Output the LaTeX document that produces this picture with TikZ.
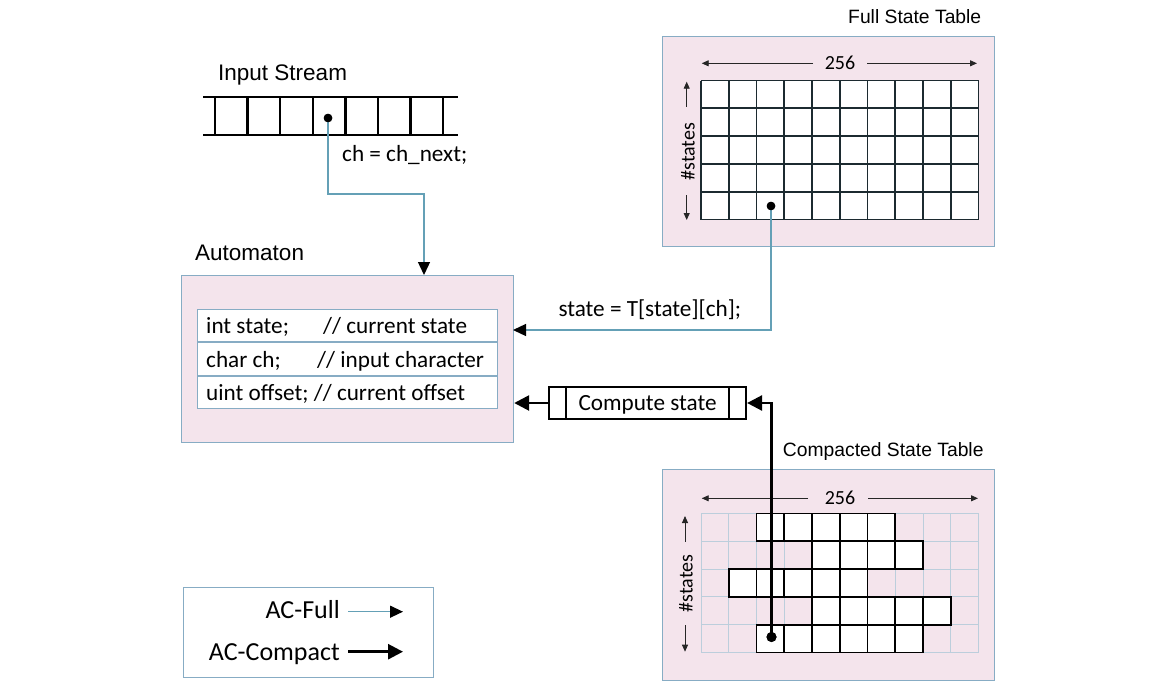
\documentclass[tikz,border=0pt]{standalone}
\usepackage{fontspec}
\setmainfont{Carlito}
\newfontfamily\arialf{Liberation Sans}
\usetikzlibrary{arrows.meta}
\definecolor{pinkbg}{RGB}{244,228,236}
\definecolor{boxline}{RGB}{135,172,196}
\definecolor{fulline}{RGB}{100,160,182}
\definecolor{gridlight}{RGB}{188,206,220}
\definecolor{griddark}{RGB}{28,42,48}
\begin{document}
\begin{tikzpicture}[x=1pt,y=-1pt,
  pinkbox/.style={draw=boxline, fill=pinkbg, line width=1.2pt, rectangle, inner sep=0pt, anchor=north west},
  thinarrow/.style={draw=fulline, line width=1.3pt, -{Triangle[length=13pt,width=12pt,color=black]}},
  thickarrow/.style={draw=black, line width=2.6pt, -{Triangle[length=15pt,width=15pt]}},
  titlef/.style={font=\arialf\fontsize{22.5}{26}\selectfont, inner sep=0pt, anchor=base west},
  tabtitle/.style={font=\arialf\fontsize{19.3}{22}\selectfont, inner sep=0pt, anchor=base west},
  code/.style={font=\fontsize{23.2}{27}\selectfont, inner sep=0pt, anchor=base west},
  smallf/.style={font=\fontsize{20}{24}\selectfont, inner sep=0pt},
  legf/.style={font=\fontsize{26}{30}\selectfont, inner sep=0pt, anchor=base east},
  dimarrow/.style={draw=black!85, line width=0.9pt, -{Triangle[length=7pt,width=6pt]}},
  dotn/.style={circle, fill=black, inner sep=0pt, minimum size=8.5pt},
  streamline/.style={line width=2.3pt, black},
  fullgrid/.style={line width=1.8pt, griddark},
  lightgrid/.style={line width=0.9pt, gridlight},
  compcell/.style={line width=1.9pt, draw=black, fill=white},
  compbox/.style={draw, line width=2.2pt, rectangle, inner sep=0pt, minimum width=197pt, minimum height=32pt},
]
\useasboundingbox[fill=white] (0,0) rectangle (1164,680);

% ---------- Input stream ----------
\node[titlef] (tin) at (218,80) {Input Stream};
\draw[streamline] (203,97) -- (458,97);
\draw[streamline] (203,135) -- (458,135);
\foreach \i in {0,...,7} \draw[streamline] ({215+32.6*\i},97) -- ({215+32.6*\i},135);
\node[dotn] (indot) at (328,118) {};
\node[code] (chnext) at (342,161.7) {ch = ch\_next;};

% ---------- Automaton ----------
\node[titlef] (tauto) at (195,260) {Automaton};
\node[pinkbox, minimum width=332pt, minimum height=167pt] (auto) at (181,275) {};
\node[draw=boxline, fill=white, line width=1.2pt, minimum width=300pt, minimum height=99pt, anchor=north west, inner sep=0pt] (vars) at (197,309) {};
\draw[boxline, line width=1.2pt] (197,342) -- (497,342);
\draw[boxline, line width=1.2pt] (197,376) -- (497,376);
\node[code] (v1a) at (206,333.5) {int state;};
\node[code] (v1b) at (323,333.5) {// current state};
\node[code] (v2a) at (206,367) {char ch;};
\node[code] (v2b) at (317,367) {// input character};
\node[code] (v3) at (206,400) {uint offset; // current offset};

% ---------- Full state table ----------
\node[tabtitle] (tfull) at (848,23.3) {Full State Table};
\node[pinkbox, minimum width=332pt, minimum height=210pt] (fullbox) at (662,36) {};
\fill[white] (701,80.5) rectangle (978.5,219.5);
\foreach \i in {0,...,10} \draw[fullgrid] ({701+27.75*\i},80.5) -- ({701+27.75*\i},219.5);
\foreach \j in {0,...,5} \draw[fullgrid] (701,{80.5+27.8*\j}) -- (978.5,{80.5+27.8*\j});
\node[smallf, anchor=base] (f256) at (840,69.5) {256};
\coordinate (fa1) at (813,63.3);
\coordinate (fa2) at (701.7,63.3);
\coordinate (fa3) at (867,63.3);
\coordinate (fa4) at (977,63.3);
\draw[dimarrow] (fa1) -- (fa2);
\draw[dimarrow] (fa3) -- (fa4);
\node[smallf, rotate=90] (fst) at (688,151.7) {\#states};
\coordinate (fs1) at (686.7,106.7);
\coordinate (fs2) at (686.7,81.7);
\coordinate (fs3) at (686.7,195);
\coordinate (fs4) at (686.7,220);
\draw[dimarrow] (fs1) -- (fs2);
\draw[dimarrow] (fs3) -- (fs4);
\node[dotn] (fulldot) at (771,206) {};

% ---------- Compacted state table ----------
\node[tabtitle] (tcomp) at (782.7,456.7) {Compacted State Table};
\node[pinkbox, minimum width=332pt, minimum height=211pt] (compbox) at (662,469) {};
\foreach \i in {0,...,10} \draw[lightgrid] ({701+27.75*\i},513.5) -- ({701+27.75*\i},652.5);
\foreach \j in {0,...,5} \draw[lightgrid] (701,{513.5+27.8*\j}) -- (978.5,{513.5+27.8*\j});
\foreach \r/\a/\b in {0/2/6, 1/4/7, 2/1/5, 3/4/8, 4/2/7} {
  \foreach \c in {\a,...,\b} {
    \draw[compcell] ({701+27.75*\c},{513.5+27.8*\r}) rectangle +(27.75,27.8);
  }
}
\node[smallf, anchor=base] (c256) at (840,504.6) {256};
\coordinate (ca1) at (808,498.3);
\coordinate (ca2) at (701.7,498.3);
\coordinate (ca3) at (868,498.3);
\coordinate (ca4) at (978,498.3);
\draw[dimarrow] (ca1) -- (ca2);
\draw[dimarrow] (ca3) -- (ca4);
\node[smallf, rotate=90] (cst) at (686,583.3) {\#states};
\coordinate (cs1) at (685,541.7);
\coordinate (cs2) at (685,516);
\coordinate (cs3) at (685,625);
\coordinate (cs4) at (685,651.7);
\draw[dimarrow] (cs1) -- (cs2);
\draw[dimarrow] (cs3) -- (cs4);
\node[dotn, minimum size=10pt] (compdot) at (771.5,637) {};

% ---------- Compute state ----------
\node[compbox] (compute) at (647.5,403) {};
\draw[line width=2.2pt] ([xshift=18pt]compute.north west) -- ([xshift=18pt]compute.south west);
\draw[line width=2.2pt] ([xshift=-18pt]compute.north east) -- ([xshift=-18pt]compute.south east);
\node[code] (ctext) at (578.3,410.7) {Compute state};

% ---------- Connectors ----------
\coordinate (b1) at (424,194);
\draw[thinarrow] (indot.center) |- (b1) -- (b1 |- auto.north);
\coordinate (s2) at (513,330);
\draw[thinarrow] (fulldot.center) |- (s2);
\node[code] (stext) at (558.3,316.7) {state = T[state][ch];};
\draw[thickarrow] (compdot.center) |- (compute.east);
\draw[thickarrow] (compute.west) -- (compute.west -| auto.east);
\node[dotn] at (indot) {};
\node[dotn] at (fulldot) {};
\node[dotn, minimum size=10pt] at (compdot) {};

% ---------- Legend ----------
\node[draw=boxline, line width=1.2pt, fill=white, anchor=north west, inner sep=0pt, minimum width=250pt, minimum height=90pt] (legend) at (183,587) {};
\node[legf] (lfull) at (340,618.3) {AC-Full};
\node[legf] (lcomp) at (340,660) {AC-Compact};
\coordinate (l1a) at (348,611.7);
\coordinate (l1b) at (403,611.7);
\coordinate (l2a) at (348,651.7);
\coordinate (l2b) at (403,651.7);
\draw[thinarrow] (l1a) -- (l1b);
\draw[thickarrow] (l2a) -- (l2b);
\end{tikzpicture}
\end{document}
